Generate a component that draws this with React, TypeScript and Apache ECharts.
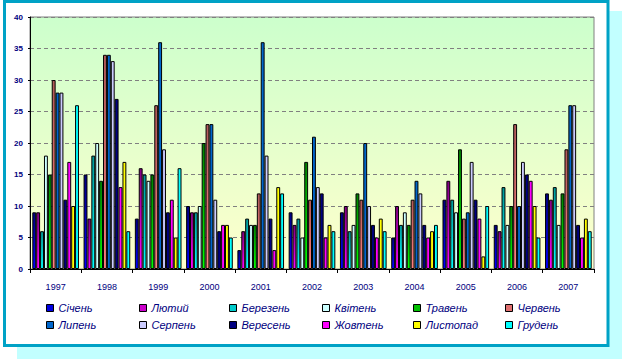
import React, { useEffect, useRef } from "react";
import * as echarts from "echarts";

const years = ["1997", "1998", "1999", "2000", "2001", "2002", "2003", "2004", "2005", "2006", "2007"];
const months = ["Січень", "Лютий", "Березень", "Квітень", "Травень", "Червень", "Липень", "Серпень", "Вересень", "Жовтень", "Листопад", "Грудень"];

const sichen = [9, 15, 8, 10, 3, 9, 9, 5, 11, 7, 12];
const lyutyi = [9, 8, 16, 9, 6, 7, 10, 10, 14, 6, 11];
const berezen = [6, 18, 15, 9, 8, 8, 6, 7, 11, 13, 13];
const kviten = [18, 20, 14, 10, 7, 5, 7, 9, 9, 7, 7];
const traven = [15, 14, 15, 20, 7, 17, 12, 7, 19, 10, 12];
const cherven = [30, 34, 26, 23, 12, 11, 11, 11, 8, 23, 19];
const lypen = [28, 34, 36, 23, 36, 21, 20, 14, 9, 10, 26];
const serpen = [28, 33, 19, 11, 18, 13, 10, 12, 17, 17, 26];
const veresen = [11, 27, 9, 6, 8, 12, 7, 7, 11, 15, 7];
const zhovten = [17, 13, 11, 7, 3, 5, 5, 5, 8, 14, 5];
const lystopad = [10, 17, 5, 7, 13, 7, 8, 6, 2, 10, 8];
const gruden = [26, 6, 16, 5, 12, 6, 6, 7, 10, 5, 6];

const values = [sichen, lyutyi, berezen, kviten, traven, cherven, lypen, serpen, veresen, zhovten, lystopad, gruden];

const yTicks = { min: 0, max: 40, interval: 5 };

// [top, bottom] gradient colors for bars, and legend swatch colors
const barColors: [string, string][] = [
  ["#000080", "#0000FF"],
  ["#800080", "#FF00FF"],
  ["#009999", "#00FFFF"],
  ["#CCFFFF", "#CCFFFF"],
  ["#008000", "#00FF00"],
  ["#B05A5A", "#FF8080"],
  ["#0066CC", "#0066CC"],
  ["#CCCCFF", "#CCCCFF"],
  ["#000080", "#000080"],
  ["#FF00FF", "#FF00FF"],
  ["#FFFF00", "#FFFF00"],
  ["#00FFFF", "#00FFFF"],
];
const legendColors = ["#0000E0", "#CC00CC", "#00CCCC", "#CCFFFF", "#00C000", "#E07070", "#0066CC", "#CCCCFF", "#000080", "#FF00FF", "#FFFF00", "#00FFFF"];

const columnLefts = [46, 139, 229, 322, 413, 505];

export default function App() {
  const ref = useRef<HTMLDivElement>(null);
  useEffect(() => {
    if (!ref.current) return;
    const chart = echarts.init(ref.current, null, { renderer: "svg" });
    const font = "'Liberation Sans', Arial, sans-serif";
    const legends = columnLefts.map((left, c) => ({
      orient: "vertical",
      left,
      top: 302,
      padding: 0,
      itemGap: 5,
      itemWidth: 7,
      itemHeight: 7,
      icon: "rect",
      selectedMode: false,
      itemStyle: { borderColor: "#000", borderWidth: 1 },
      textStyle: { color: "#000080", fontStyle: "italic", fontSize: 11, fontFamily: font, lineHeight: 12 },
      data: [c, c + 6].map((i) => ({ name: months[i], itemStyle: { color: legendColors[i], borderColor: "#000", borderWidth: 1 } })),
    }));
    const option: any = {
      animation: false,
      graphic: [
        { type: "rect", z: -5, silent: true, shape: { x: 17, y: 11, width: 605, height: 348 }, style: { fill: "#C2FFFF" } },
        { type: "rect", z: -4, silent: true, shape: { x: 4.5, y: 1.5, width: 603.5, height: 344 }, style: { fill: "#FFFFFF", stroke: "#00A2C6", lineWidth: 3 } },
      ],
      legend: legends,
      grid: {
        left: 30,
        right: 28,
        top: 17,
        bottom: 90,
        show: true,
        containLabel: false,
        outerBoundsMode: "none",
        borderColor: "#808080",
        borderWidth: 1,
        backgroundColor: new echarts.graphic.LinearGradient(0, 0, 0, 1, [
          { offset: 0, color: "#CCFFCC" },
          { offset: 1, color: "#FFFFCC" },
        ]),
      },
      xAxis: {
        type: "category",
        data: years,
        boundaryGap: true,
        axisLine: { lineStyle: { color: "#000", width: 1 } },
        axisTick: { show: true, length: 4, interval: 0, lineStyle: { color: "#000" } },
        axisLabel: { color: "#000080", fontSize: 9, fontFamily: font, margin: 13, interval: 0 },
      },
      yAxis: {
        type: "value",
        min: yTicks.min,
        max: yTicks.max,
        interval: yTicks.interval,
        axisLine: { show: true, lineStyle: { color: "#000", width: 1 } },
        axisTick: { show: true, length: 2, lineStyle: { color: "#000" } },
        axisLabel: { color: "#000080", fontSize: 8, fontWeight: "bold", fontFamily: font, margin: 7 },
        splitLine: { show: true, lineStyle: { color: "#808080", type: [4, 3], width: 1 } },
      },
      series: months.map((m, i) => ({
        name: m,
        type: "bar",
        data: values[i],
        barGap: "0%",
        barCategoryGap: "9%",
        itemStyle: {
          color: new echarts.graphic.LinearGradient(0, 0, 0, 1, [
            { offset: 0, color: barColors[i][0] },
            { offset: 1, color: barColors[i][1] },
          ]),
          borderColor: "#000",
          borderWidth: 1,
        },
      })),
    };
    chart.setOption(option);
    return () => chart.dispose();
  }, []);
  return <div ref={ref} style={{ position: "absolute", left: 0, top: 0, width: 622, height: 359 }} />;
}
